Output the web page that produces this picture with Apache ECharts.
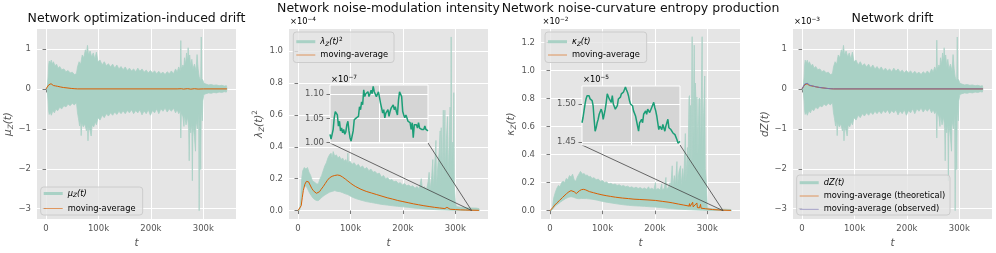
<!DOCTYPE html>
<html><head><meta charset="utf-8">
<script src="https://cdn.jsdelivr.net/npm/echarts@6/dist/echarts.min.js"></script>
<style>html,body{margin:0;padding:0;background:#fff}#c{width:996px;height:253px}</style>
</head><body><div id="c"></div>
<script>
// ---------- DATA (t in thousands) ----------
const xTickValues = [0, 100, 200, 300];
const y1Ticks = [-3, -2, -1, 0, 1];
const y2Ticks = [0, 0.2, 0.4, 0.6, 0.8, 1.0];
const y3Ticks = [0, 0.2, 0.4, 0.6, 0.8, 1.0, 1.2];
const inset2Ticks = [1.00, 1.05, 1.10];
const inset3Ticks = [1.45, 1.50];
const titles = ['Network optimization-induced drift', 'Network noise-modulation intensity', 'Network noise-curvature entropy production', 'Network drift'];

// Panel 1: mu_Z(t) envelope
const muUpper = [[0,0],[2,0.02],[4,0.3],[5,0.6],[6,0.7],[8,0.65],[10,0.72],[12,0.62],[14,0.68],[17,0.58],[20,0.62],[23,0.52],[26,0.56],[30,0.48],[34,0.5],[38,0.43],[42,0.46],[46,0.4],[50,0.42],[54,0.36],[58,0.38],[60,0.55],[63,0.68],[66,0.62],[69,0.85],[72,0.78],[75,0.98],[77,0.88],[79,1.09],[81,0.85],[84,0.95],[87,0.8],[90,0.9],[93,0.75],[96,0.92],[99,0.68],[103,0.72],[107,0.6],[111,0.68],[115,0.58],[119,0.63],[123,0.55],[127,0.62],[131,0.52],[135,0.6],[139,0.5],[143,0.56],[147,0.48],[151,0.55],[155,0.46],[159,0.52],[163,0.45],[167,0.5],[171,0.43],[175,0.52],[179,0.44],[183,0.5],[187,0.42],[191,0.47],[195,0.4],[199,0.46],[203,0.4],[207,0.45],[211,0.38],[215,0.44],[219,0.38],[223,0.42],[227,0.36],[231,0.43],[235,0.38],[239,0.45],[243,0.38],[247,0.5],[250,0.42],[253,0.55],[256,0.45],[257,1.21],[258,0.5],[261,0.6],[263,0.55],[264,0.78],[266,0.62],[268,0.9],[270,0.7],[271,1.03],[272,0.75],[274,0.85],[276,0.55],[278,0.74],[280,0.5],[283,0.62],[286,0.45],[288,0.86],[290,0.5],[292,0.3],[295,0.2],[296,1.3],[297,0.25],[299,0.22],[301,0.14],[305,0.12],[310,0.1],[315,0.11],[320,0.09],[325,0.1],[330,0.08],[335,0.09],[340,0.07],[344,0.08],[345,0]];
const muLower = [[0,0],[2,-0.02],[4,-0.3],[5,-0.55],[6,-0.64],[8,-0.58],[10,-0.66],[13,-0.55],[16,-0.6],[19,-0.5],[22,-0.55],[26,-0.46],[30,-0.5],[34,-0.42],[38,-0.45],[42,-0.38],[46,-0.42],[50,-0.36],[54,-0.4],[58,-0.34],[60,-0.6],[62,-0.75],[64,-0.93],[66,-0.8],[67,-1.17],[68,-0.85],[71,-0.95],[74,-0.88],[77,-1.05],[79,-0.9],[80,-1.3],[81,-0.95],[84,-1.05],[86,-1.18],[88,-0.9],[91,-0.95],[94,-0.82],[96,-0.9],[99,-0.72],[103,-0.78],[107,-0.66],[111,-0.72],[115,-0.62],[119,-0.68],[123,-0.6],[127,-0.66],[131,-0.58],[135,-0.64],[139,-0.56],[143,-0.62],[147,-0.55],[151,-0.62],[155,-0.54],[159,-0.6],[163,-0.52],[167,-0.62],[171,-0.54],[175,-0.6],[179,-0.52],[183,-0.65],[187,-0.55],[191,-0.62],[195,-0.52],[199,-0.66],[203,-0.54],[207,-0.6],[211,-0.5],[215,-0.62],[219,-0.5],[223,-0.56],[227,-0.48],[231,-0.58],[235,-0.5],[239,-0.56],[243,-0.48],[247,-0.6],[250,-0.52],[253,-0.62],[256,-0.55],[257,-1.23],[258,-0.6],[261,-0.7],[263,-0.94],[264,-0.65],[267,-0.9],[270,-0.7],[272,-1.0],[273,-1.8],[274,-0.9],[276,-1.1],[278,-0.85],[279,-2.3],[280,-0.9],[283,-1.2],[285,-1.56],[286,-0.8],[289,-1.0],[291,-0.6],[292,-3.05],[293,-0.7],[295,-2.02],[296,-0.5],[298,-0.8],[299,-0.3],[301,-0.14],[305,-0.12],[310,-0.1],[315,-0.11],[320,-0.09],[325,-0.1],[330,-0.08],[335,-0.09],[340,-0.07],[344,-0.08],[345,0]];
const muAvg = [[0,0],[3,0.01],[5,0.1],[6.5,0.13],[8,0.1],[9.5,0.13],[11,0.1],[14,0.085],[18,0.075],[22,0.065],[27,0.05],[33,0.035],[40,0.025],[48,0.012],[55,0.004],[60,0],[250,0],[258,0.005],[262,-0.005],[270,0.006],[276,-0.006],[283,0.005],[290,-0.004],[300,0],[345,0]];

// Panel 2: lambda_Z(t)^2 (x1e-4)
const lamUpper = [[0,0],[3,0.005],[5,0.06],[7,0.2],[9,0.25],[12,0.27],[15,0.26],[18,0.27],[21,0.24],[24,0.22],[27,0.19],[30,0.18],[33,0.175],[36,0.165],[39,0.17],[42,0.2],[45,0.22],[48,0.25],[51,0.28],[54,0.3],[57,0.33],[60,0.35],[63,0.36],[65,0.33],[67,0.37],[70,0.34],[73,0.35],[76,0.33],[79,0.34],[82,0.32],[85,0.33],[88,0.31],[91,0.32],[94,0.3],[95,0.36],[96,0.3],[99,0.31],[103,0.29],[107,0.3],[111,0.28],[115,0.29],[119,0.27],[123,0.28],[127,0.26],[131,0.27],[135,0.25],[139,0.26],[143,0.24],[147,0.245],[151,0.23],[155,0.235],[159,0.21],[163,0.22],[167,0.2],[171,0.205],[175,0.19],[179,0.195],[183,0.18],[187,0.185],[191,0.17],[195,0.175],[199,0.16],[203,0.17],[207,0.155],[211,0.16],[215,0.15],[219,0.155],[223,0.14],[227,0.15],[231,0.135],[235,0.2],[237,0.14],[241,0.15],[245,0.13],[248,0.18],[250,0.24],[252,0.13],[255,0.22],[257,0.32],[258,0.14],[261,0.31],[263,0.44],[264,0.15],[267,0.3],[269,0.36],[271,0.5],[272,0.15],[273,0.52],[275,0.2],[277,0.63],[278,0.2],[280,0.63],[281,0.25],[283,0.45],[285,0.59],[286,0.2],[288,0.4],[290,0.65],[291,0.2],[292,1.09],[293,0.3],[295,0.43],[296,0.2],[297,0.74],[298,0.15],[300,0.05],[302,0.025],[310,0.02],[320,0.018],[330,0.016],[340,0.015],[345,0.012],[346,0]];
const lamLower = [[0,0],[3,0.002],[5,0.03],[7,0.1],[10,0.14],[13,0.155],[16,0.15],[19,0.13],[22,0.11],[25,0.095],[28,0.08],[31,0.07],[34,0.065],[37,0.062],[40,0.065],[43,0.075],[46,0.085],[50,0.095],[55,0.105],[60,0.115],[65,0.12],[70,0.125],[75,0.12],[80,0.118],[85,0.112],[90,0.105],[95,0.1],[100,0.09],[105,0.082],[110,0.075],[120,0.065],[130,0.056],[140,0.05],[150,0.044],[160,0.038],[170,0.034],[180,0.03],[190,0.026],[200,0.023],[210,0.02],[220,0.016],[230,0.013],[240,0.01],[250,0.008],[260,0.006],[270,0.004],[280,0.003],[290,0.002],[300,0.001],[345,0],[346,0]];
const lamAvg = [[0,0],[3,0.002],[6,0.03],[8,0.08],[10,0.125],[13,0.165],[16,0.183],[18,0.187],[20,0.18],[23,0.16],[26,0.14],[29,0.125],[32,0.115],[35,0.108],[38,0.108],[41,0.118],[44,0.133],[48,0.15],[52,0.17],[56,0.19],[60,0.205],[65,0.215],[70,0.22],[75,0.223],[80,0.22],[85,0.21],[90,0.198],[95,0.185],[100,0.172],[105,0.16],[110,0.15],[120,0.133],[130,0.12],[140,0.11],[150,0.1],[160,0.09],[170,0.08],[180,0.072],[190,0.063],[200,0.056],[210,0.049],[220,0.042],[230,0.036],[240,0.03],[250,0.025],[260,0.02],[270,0.016],[280,0.012],[284,0.02],[285,0.01],[290,0.008],[292,0.018],[293,0.007],[300,0.006],[310,0.004],[320,0.003],[330,0.002],[345,0.001]];
// inset of panel 2 (x1e-7)
const lamInset = [1.017,1.007,1.017,1.027,1.051,1.064,1.068,1.057,1.034,1.044,1.024,1.03,1.02,1.027,1.017,1.022,1.037,1.044,1.024,1.01,1.003,1.007,1.024,1.047,1.044,1.051,1.047,1.054,1.074,1.068,1.084,1.078,1.109,1.095,1.101,1.098,1.105,1.095,1.101,1.108,1.101,1.116,1.105,1.108,1.095,1.098,1.105,1.101,1.081,1.071,1.061,1.068,1.051,1.061,1.057,1.068,1.054,1.064,1.071,1.068,1.078,1.068,1.074,1.064,1.057,1.088,1.105,1.107,1.095,1.064,1.057,1.051,1.057,1.051,1.044,1.047,1.041,1.027,1.041,1.01,1.037,1.034,1.037,1.03,1.041,1.03,1.034,1.027,1.03,1.027,1.034,1.027,1.03,1.024];

// Panel 3: kappa_Z(t) (x1e-2)
const kapUpper = [[0,0],[3,0.005],[5,0.03],[7,0.09],[10,0.13],[13,0.16],[16,0.18],[19,0.17],[22,0.2],[25,0.21],[28,0.2],[31,0.23],[34,0.22],[37,0.25],[40,0.24],[43,0.26],[46,0.22],[49,0.21],[52,0.24],[55,0.26],[58,0.28],[60,0.27],[62,0.26],[65,0.265],[68,0.25],[71,0.255],[74,0.24],[77,0.245],[80,0.23],[84,0.235],[88,0.22],[92,0.225],[96,0.21],[100,0.215],[104,0.2],[108,0.205],[112,0.19],[116,0.195],[120,0.185],[124,0.19],[128,0.18],[132,0.185],[136,0.175],[140,0.18],[144,0.17],[148,0.175],[152,0.165],[156,0.17],[160,0.16],[164,0.168],[168,0.158],[172,0.165],[176,0.155],[180,0.162],[184,0.152],[188,0.17],[190,0.152],[194,0.16],[198,0.15],[201,0.2],[202,0.15],[206,0.158],[210,0.148],[213,0.19],[214,0.148],[218,0.16],[221,0.237],[222,0.15],[226,0.17],[229,0.2],[230,0.15],[233,0.32],[234,0.16],[237,0.25],[239,0.18],[242,0.35],[243,0.18],[246,0.28],[249,0.32],[250,0.18],[253,0.3],[255,0.2],[258,0.55],[259,0.2],[262,0.45],[263,0.25],[265,0.81],[266,0.82],[267,0.3],[268,0.75],[269,0.3],[271,1.24],[272,0.35],[273,0.6],[275,1.18],[276,0.4],[277,0.91],[278,0.82],[279,0.4],[280,0.81],[282,0.4],[284,0.8],[286,0.8],[287,0.45],[288,0.6],[290,1.24],[291,0.4],[293,0.7],[295,0.96],[296,0.3],[298,0.2],[300,0.02],[305,0.015],[315,0.012],[325,0.01],[335,0.01],[345,0.008],[346,0]];
const kapLower = [[0,0],[3,0.002],[5,0.01],[8,0.025],[12,0.04],[16,0.05],[20,0.062],[25,0.075],[30,0.087],[35,0.095],[40,0.1],[45,0.095],[50,0.088],[55,0.085],[60,0.087],[70,0.086],[80,0.082],[90,0.075],[100,0.066],[110,0.059],[120,0.053],[130,0.047],[140,0.042],[150,0.038],[160,0.035],[170,0.033],[180,0.031],[190,0.028],[200,0.026],[210,0.023],[220,0.019],[230,0.015],[240,0.012],[250,0.01],[260,0.008],[270,0.006],[280,0.004],[290,0.003],[300,0.002],[345,0.001],[346,0]];
const kapAvg = [[0,0],[3,0.003],[6,0.025],[9,0.04],[13,0.055],[18,0.073],[24,0.095],[31,0.12],[36,0.135],[40,0.143],[43,0.145],[46,0.135],[50,0.122],[53,0.128],[56,0.142],[60,0.15],[64,0.152],[68,0.148],[75,0.136],[83,0.128],[91,0.12],[99,0.113],[107,0.107],[115,0.102],[125,0.096],[138,0.09],[150,0.086],[160,0.082],[170,0.08],[185,0.077],[201,0.073],[215,0.066],[225,0.061],[233,0.056],[245,0.047],[255,0.04],[265,0.033],[266,0.05],[267,0.03],[272,0.06],[273,0.027],[275,0.026],[280,0.055],[281,0.022],[285,0.02],[287,0.045],[288,0.018],[296,0.014],[310,0.008],[328,0.004],[345,0.002]];
// inset of panel 3 (x1e-5)
const kapInset = [1.4754,1.482,1.491,1.5,1.5067,1.511,1.509,1.511,1.5067,1.509,1.5045,1.4978,1.48,1.4643,1.4688,1.4754,1.48,1.4866,1.4844,1.4933,1.4888,1.48,1.4866,1.4933,1.5022,1.5134,1.511,1.5067,1.509,1.5022,1.511,1.5,1.5022,1.4933,1.491,1.4978,1.5067,1.5045,1.509,1.5134,1.511,1.5156,1.5179,1.5223,1.5188,1.5156,1.511,1.5045,1.5,1.5022,1.4978,1.491,1.4933,1.4844,1.4777,1.471,1.4643,1.4754,1.4732,1.48,1.4754,1.4866,1.4844,1.491,1.4866,1.4933,1.4955,1.4888,1.491,1.4955,1.4933,1.5022,1.4955,1.491,1.4844,1.4754,1.4665,1.471,1.4688,1.4665,1.4732,1.4688,1.4643,1.471,1.4754,1.48,1.4688,1.471,1.4665,1.4688,1.462,1.4643,1.4598,1.4576,1.4531,1.4487,1.4464,1.4509];

// Panel 4: dZ(t) (x1e-3)
const dzUpper = [[0,0],[2,0.02],[4,0.3],[5,0.6],[6,0.72],[8,0.65],[10,0.72],[12,0.62],[14,0.68],[17,0.58],[20,0.62],[23,0.52],[26,0.56],[30,0.48],[34,0.5],[38,0.43],[42,0.46],[46,0.4],[50,0.42],[54,0.36],[58,0.38],[60,0.55],[63,0.68],[66,0.62],[69,0.85],[72,0.78],[75,0.98],[77,0.88],[79,1.09],[81,0.85],[84,0.95],[87,0.8],[90,0.9],[93,0.75],[96,0.92],[99,0.68],[103,0.72],[107,0.6],[111,0.68],[115,0.58],[119,0.63],[123,0.55],[127,0.62],[131,0.52],[135,0.6],[139,0.5],[143,0.56],[147,0.48],[151,0.55],[155,0.46],[159,0.52],[163,0.45],[167,0.5],[171,0.43],[175,0.52],[179,0.44],[183,0.5],[187,0.42],[191,0.47],[195,0.4],[199,0.46],[203,0.4],[207,0.45],[211,0.38],[215,0.44],[219,0.38],[223,0.42],[227,0.36],[231,0.43],[235,0.38],[239,0.45],[243,0.38],[247,0.5],[250,0.42],[253,0.55],[256,0.45],[257,1.22],[258,0.5],[261,0.6],[263,0.55],[264,0.78],[266,0.62],[268,0.9],[270,0.7],[271,1.03],[272,0.75],[274,0.85],[276,0.55],[278,0.74],[280,0.5],[283,0.62],[286,0.45],[288,0.86],[290,0.5],[292,0.3],[295,0.2],[296,1.3],[297,0.25],[299,0.22],[301,0.14],[305,0.12],[310,0.1],[315,0.11],[320,0.09],[325,0.1],[330,0.08],[335,0.09],[340,0.07],[344,0.08],[345,0]];
const dzLower = [[0,0],[2,-0.02],[4,-0.3],[5,-0.55],[6,-0.64],[8,-0.58],[10,-0.66],[13,-0.55],[16,-0.6],[19,-0.5],[22,-0.55],[26,-0.46],[30,-0.5],[34,-0.42],[38,-0.45],[42,-0.38],[46,-0.42],[50,-0.36],[54,-0.4],[58,-0.34],[60,-0.6],[62,-0.75],[64,-0.93],[66,-0.8],[67,-1.17],[68,-0.85],[71,-0.95],[74,-0.88],[77,-1.05],[79,-0.9],[80,-1.3],[81,-0.95],[84,-1.05],[86,-1.18],[88,-0.9],[91,-0.95],[94,-0.82],[96,-0.9],[99,-0.72],[103,-0.78],[107,-0.66],[111,-0.72],[115,-0.62],[119,-0.68],[123,-0.6],[127,-0.66],[131,-0.58],[135,-0.64],[139,-0.56],[143,-0.62],[147,-0.55],[151,-0.62],[155,-0.54],[159,-0.6],[163,-0.52],[167,-0.62],[171,-0.54],[175,-0.6],[179,-0.52],[183,-0.65],[187,-0.55],[191,-0.62],[195,-0.52],[199,-0.66],[203,-0.54],[207,-0.6],[211,-0.5],[215,-0.62],[219,-0.5],[223,-0.56],[227,-0.48],[231,-0.58],[235,-0.5],[239,-0.56],[243,-0.48],[247,-0.6],[250,-0.52],[253,-0.62],[256,-0.55],[257,-1.23],[258,-0.6],[261,-0.7],[263,-0.94],[264,-0.65],[267,-0.9],[270,-0.7],[272,-1.0],[273,-1.8],[274,-0.9],[276,-1.1],[278,-0.85],[279,-2.3],[280,-0.9],[283,-1.2],[285,-1.56],[286,-0.8],[289,-1.0],[291,-0.6],[292,-3.05],[293,-0.7],[295,-2.02],[296,-0.5],[298,-0.8],[299,-0.3],[301,-0.14],[305,-0.12],[310,-0.1],[315,-0.11],[320,-0.09],[325,-0.1],[330,-0.08],[335,-0.09],[340,-0.07],[344,-0.08],[345,0]];
const dzAvgTheoretical = [[0,0],[3,0.01],[5,0.1],[6.5,0.13],[8,0.1],[9.5,0.13],[11,0.1],[14,0.085],[18,0.075],[22,0.065],[27,0.05],[33,0.035],[40,0.025],[48,0.012],[55,0.004],[60,0],[345,0]];
const dzAvgObserved = [[0,0],[3,0.01],[5,0.12],[7,0.15],[8.5,0.12],[10,0.14],[12,0.11],[15,0.09],[20,0.075],[26,0.055],[32,0.04],[40,0.025],[48,0.012],[55,0.004],[60,0],[345,0]];

const insetZoomT = [331, 330];

// ---------- STYLE / LAYOUT ----------
const FONT = 'DejaVu Sans';
const GREEN_FILL = '#a9d1c5';
const GREEN = '#1b9e77';
const ORANGE = '#d95f02';
const PURPLE = '#7570b3';
const TICK = '#555555';
const TOP = 29, W = 199, H = 191;
const lefts = [37, 289, 541, 793];
const yRanges = [[-3.26, 1.5], [-0.054, 1.14], [-0.06, 1.295], [-3.26, 1.5]];
const yTickSets = [y1Ticks, y2Ticks, y3Ticks, y1Ticks];
const yFmt = [v => v < 0 ? '\u2212' + Math.abs(v) : String(v), v => v.toFixed(1), v => v.toFixed(1), v => v < 0 ? '\u2212' + Math.abs(v) : String(v)];
const yNames = ['{i|\u03bc}{s|Z}{i|(t)}', '{i|\u03bb}{s|Z}{i|(t)}{p|2}', '{i|\u03ba}{s|Z}{i|(t)}', '{i|dZ}{i|(t)}'];
const yNameGaps = [14, 15, 18, 19];
const insetBoxes = [{left: 330, top: 85, width: 98, height: 58}, {left: 582, top: 86, width: 98, height: 59}];
const insetRanges = [[0.999, 1.119], [1.4462, 1.5237]];

function rich(fs, color) {
  return {
    i: {fontFamily: FONT, fontStyle: 'italic', fontSize: fs, color: color, lineHeight: fs * 1.3},
    s: {fontFamily: FONT, fontStyle: 'italic', fontSize: fs * 0.7, color: color, lineHeight: fs * 0.75, verticalAlign: 'bottom'},
    p: {fontFamily: FONT, fontSize: fs * 0.7, color: color, lineHeight: fs * 0.75, verticalAlign: 'top'},
    n: {fontFamily: FONT, fontSize: fs, color: color, lineHeight: fs * 1.3}
  };
}

const grids = [], xAxes = [], yAxes = [], series = [];
lefts.forEach((l, i) => {
  grids.push({left: l, top: TOP, width: W, height: H, show: true, backgroundColor: '#E5E5E5', borderWidth: 0, z: 0});
  xAxes.push({
    type: 'value', gridIndex: i, min: -17.25, max: 362.25, z: 0,
    name: 't', nameLocation: 'middle', nameGap: 15,
    nameTextStyle: {fontFamily: FONT, fontStyle: 'italic', fontSize: 10.4, color: TICK},
    axisLine: {show: false},
    axisTick: {show: true, length: 3.5, lineStyle: {color: TICK, width: 0.8}, customValues: xTickValues},
    axisLabel: {customValues: xTickValues, formatter: v => v === 0 ? '0' : v + 'k', fontFamily: FONT, fontSize: 8.5, color: TICK, margin: 5},
    splitLine: {show: true, lineStyle: {color: '#ffffff', width: 1}}
  });
  yAxes.push({
    type: 'value', gridIndex: i, min: yRanges[i][0], max: yRanges[i][1], z: 0,
    name: yNames[i], nameLocation: 'middle', nameGap: yNameGaps[i], nameRotate: 90,
    nameTextStyle: {rich: rich(10.4, TICK)},
    axisLine: {show: false},
    axisTick: {show: true, length: 3.5, lineStyle: {color: TICK, width: 0.8}, customValues: yTickSets[i]},
    axisLabel: {customValues: yTickSets[i], formatter: yFmt[i], fontFamily: FONT, fontSize: 8.5, color: TICK, margin: 6},
    splitLine: {show: true, lineStyle: {color: '#ffffff', width: 1}}
  });
});
// inset grids
const insetData = [lamInset, kapInset];
const insetTicks = [inset2Ticks, inset3Ticks];
insetBoxes.forEach((b, k) => {
  const gi = 4 + k;
  const n = insetData[k].length - 1;
  grids.push(Object.assign({show: true, backgroundColor: '#d5d5d5', borderColor: '#ffffff', borderWidth: 1, z: 5}, b));
  xAxes.push({type: 'value', gridIndex: gi, min: 0, max: n, z: 6,
    axisLine: {show: false}, axisTick: {show: false, customValues: [n / 2]},
    axisLabel: {show: false, customValues: [n / 2]},
    splitLine: {show: true, lineStyle: {color: '#ffffff', width: 1}}});
  yAxes.push({type: 'value', gridIndex: gi, min: insetRanges[k][0], max: insetRanges[k][1], z: 6,
    axisLine: {show: false},
    axisTick: {show: true, length: 3.5, lineStyle: {color: TICK, width: 0.8}, customValues: insetTicks[k]},
    axisLabel: {customValues: insetTicks[k], formatter: v => v.toFixed(2), fontFamily: FONT, fontSize: 8.5, color: TICK, margin: 6},
    splitLine: {show: true, lineStyle: {color: '#ffffff', width: 1}}});
  series.push({type: 'line', xAxisIndex: gi, yAxisIndex: gi, z: 7, data: insetData[k].map((v, j) => [j, v]),
    showSymbol: false, symbol: 'none', lineStyle: {color: GREEN, width: 1.5}});
});

function band(i, up, lo) {
  return {type: 'custom', xAxisIndex: i, yAxisIndex: i, z: 2, silent: true, data: [[0, 0]],
    renderItem: (p, api) => {
      const pts = up.map(d => api.coord(d)).concat(lo.slice().reverse().map(d => api.coord(d)));
      return {type: 'polygon', shape: {points: pts}, style: {fill: GREEN_FILL, stroke: GREEN_FILL, lineWidth: 0.8}};
    }};
}
function avgLine(i, data, color) {
  return {type: 'line', xAxisIndex: i, yAxisIndex: i, z: 3, data: data, showSymbol: false, symbol: 'none',
    lineStyle: {color: color, width: 1}};
}
series.push(band(0, muUpper, muLower), avgLine(0, muAvg, ORANGE));
series.push(band(1, lamUpper, lamLower), avgLine(1, lamAvg, ORANGE));
series.push(band(2, kapUpper, kapLower), avgLine(2, kapAvg, ORANGE));
series.push(band(3, dzUpper, dzLower), avgLine(3, dzAvgTheoretical, ORANGE), avgLine(3, dzAvgObserved, PURPLE));

// ---------- GRAPHICS (titles, offset labels, legends) ----------
const graphics = [];
const titlePos = [[136.5, 19], [388.5, 8.5], [640.5, 8.5], [892.5, 19]];
titles.forEach((t, i) => graphics.push({type: 'text', z: 20, style: {text: t, x: titlePos[i][0], y: titlePos[i][1],
  align: 'center', verticalAlign: 'middle', fontFamily: FONT, fontSize: 12.5, fill: '#111'}}));
const offsets = [['{n|\u00d710}{p|\u22124}', 290, 22], ['{n|\u00d710}{p|\u22122}', 542.5, 22], ['{n|\u00d710}{p|\u22123}', 794, 22],
  ['{n|\u00d710}{p|\u22127}', 331, 80], ['{n|\u00d710}{p|\u22125}', 583, 80]];
offsets.forEach(o => graphics.push({type: 'text', z: 20, style: {text: o[0], x: o[1], y: o[2], verticalAlign: 'middle', rich: rich(8.3, TICK)}}));

function legend(x, y, w, h, items) {
  graphics.push({type: 'rect', z: 20, shape: {x: x, y: y, width: w, height: h, r: 3},
    style: {fill: 'rgba(229,229,229,0.8)', stroke: '#cccccc', lineWidth: 1}});
  items.forEach(it => {
    graphics.push({type: 'line', z: 21, shape: {x1: x + 3, y1: it.y, x2: x + 22, y2: it.y},
      style: {stroke: it.color, lineWidth: it.width, opacity: it.opacity}});
    graphics.push({type: 'text', z: 21, style: {text: it.text, x: x + 27, y: it.y, verticalAlign: 'middle', rich: rich(8.3, '#222')}});
  });
}
legend(40.7, 187, 102, 28, [
  {y: 193.5, color: GREEN_FILL, width: 3, opacity: 1, text: '{i|\u03bc}{s|Z}{i|(t)}'},
  {y: 208.5, color: ORANGE, width: 1, opacity: 0.6, text: '{n|moving-average}'}]);
legend(293.3, 32, 100.7, 30.5, [
  {y: 41.7, color: GREEN_FILL, width: 3, opacity: 1, text: '{i|\u03bb}{s|Z}{i|(t)}{p|2}'},
  {y: 55, color: ORANGE, width: 1, opacity: 0.6, text: '{n|moving-average}'}]);
legend(545, 32, 101.7, 30.5, [
  {y: 41.7, color: GREEN_FILL, width: 3, opacity: 1, text: '{i|\u03ba}{s|Z}{i|(t)}'},
  {y: 55, color: ORANGE, width: 1, opacity: 0.6, text: '{n|moving-average}'}]);
legend(796.7, 175, 153.3, 40, [
  {y: 182.7, color: GREEN_FILL, width: 3, opacity: 1, text: '{i|dZ(t)}'},
  {y: 196, color: ORANGE, width: 1, opacity: 0.6, text: '{n|moving-average (theoretical)}'},
  {y: 209.3, color: PURPLE, width: 1, opacity: 0.6, text: '{n|moving-average (observed)}'}]);

const chart = echarts.init(document.getElementById('c'), null, {renderer: 'canvas'});
chart.setOption({animation: false, backgroundColor: '#ffffff', grid: grids, xAxis: xAxes, yAxis: yAxes, series: series});

// connector lines from inset corners to the zoomed point
insetBoxes.forEach((b, k) => {
  const tgt = chart.convertToPixel({xAxisIndex: 1 + k, yAxisIndex: 1 + k}, [insetZoomT[k], 0]);
  [[b.left, b.top + b.height], [b.left + b.width, b.top + b.height]].forEach(c => {
    graphics.push({type: 'line', z: 4, shape: {x1: c[0], y1: c[1], x2: tgt[0], y2: tgt[1]}, style: {stroke: '#444', lineWidth: 0.8}});
  });
});
chart.setOption({graphic: graphics});
</script></body></html>
